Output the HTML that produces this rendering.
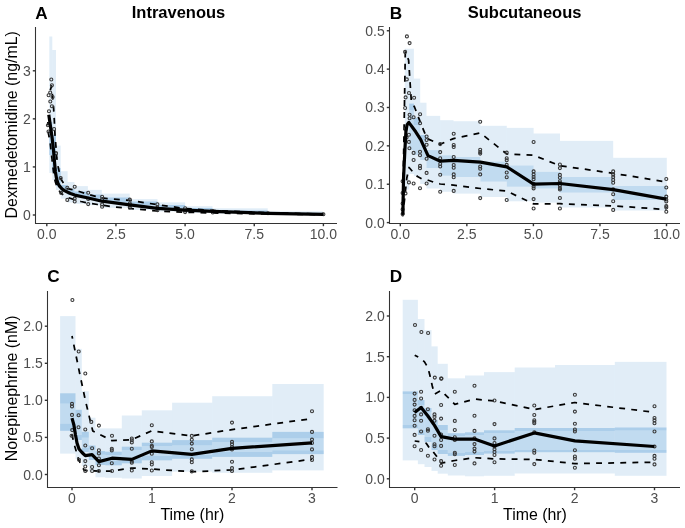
<!DOCTYPE html>
<html><head><meta charset="utf-8"><style>
html,body{margin:0;padding:0;background:#fff;}
svg{display:block;will-change:transform;}
text{font-family:"Liberation Sans",sans-serif;}
.tl{font-size:14px;fill:#4d4d4d;}
.tag{font-size:17.2px;font-weight:bold;fill:#000;}
.ttl{font-size:16.5px;font-weight:bold;fill:#000;}
.at{font-size:15.9px;fill:#000;}
.ax{fill:none;stroke:#333333;stroke-width:1.07;}
.tk{stroke:#333333;stroke-width:1.4;}
.ds{fill:none;stroke:#000;stroke-width:1.75;stroke-dasharray:5.9 6.2;stroke-linejoin:round;}
.md{fill:none;stroke:#000;stroke-width:3.2;stroke-linejoin:round;stroke-linecap:butt;}
.pt circle{fill:none;stroke:#383838;stroke-width:1.1;}
</style></head>
<body><svg width="685" height="528" viewBox="0 0 685 528">
<rect width="685" height="528" fill="#fff"/>
<rect x="49.30" y="36.50" width="3.00" height="136.50" fill="#3388cc" fill-opacity="0.15"/>
<rect x="49.30" y="122.00" width="3.00" height="33.00" fill="#3388cc" fill-opacity="0.3"/>
<rect x="52.30" y="50.00" width="3.70" height="130.00" fill="#3388cc" fill-opacity="0.15"/>
<rect x="52.30" y="135.00" width="3.70" height="37.00" fill="#3388cc" fill-opacity="0.3"/>
<rect x="56.00" y="145.60" width="4.70" height="44.40" fill="#3388cc" fill-opacity="0.15"/>
<rect x="56.00" y="168.00" width="4.70" height="18.00" fill="#3388cc" fill-opacity="0.3"/>
<rect x="60.70" y="171.20" width="6.90" height="27.50" fill="#3388cc" fill-opacity="0.15"/>
<rect x="60.70" y="185.00" width="6.90" height="7.00" fill="#3388cc" fill-opacity="0.3"/>
<rect x="67.60" y="182.00" width="6.80" height="20.50" fill="#3388cc" fill-opacity="0.15"/>
<rect x="67.60" y="189.00" width="6.80" height="6.00" fill="#3388cc" fill-opacity="0.3"/>
<rect x="74.40" y="186.10" width="13.50" height="17.70" fill="#3388cc" fill-opacity="0.15"/>
<rect x="74.40" y="191.50" width="13.50" height="5.50" fill="#3388cc" fill-opacity="0.3"/>
<rect x="87.90" y="189.90" width="13.90" height="15.30" fill="#3388cc" fill-opacity="0.15"/>
<rect x="87.90" y="194.50" width="13.90" height="5.50" fill="#3388cc" fill-opacity="0.3"/>
<rect x="101.80" y="193.60" width="27.90" height="14.20" fill="#3388cc" fill-opacity="0.15"/>
<rect x="101.80" y="197.50" width="27.90" height="5.00" fill="#3388cc" fill-opacity="0.3"/>
<rect x="129.70" y="199.10" width="27.80" height="10.90" fill="#3388cc" fill-opacity="0.15"/>
<rect x="129.70" y="201.50" width="27.80" height="4.00" fill="#3388cc" fill-opacity="0.3"/>
<rect x="157.50" y="202.40" width="27.60" height="9.10" fill="#3388cc" fill-opacity="0.15"/>
<rect x="157.50" y="205.00" width="27.60" height="3.50" fill="#3388cc" fill-opacity="0.3"/>
<rect x="185.10" y="206.20" width="27.40" height="6.60" fill="#3388cc" fill-opacity="0.15"/>
<rect x="185.10" y="208.00" width="27.40" height="2.50" fill="#3388cc" fill-opacity="0.3"/>
<rect x="212.50" y="208.30" width="55.20" height="5.30" fill="#3388cc" fill-opacity="0.15"/>
<rect x="212.50" y="210.50" width="55.20" height="2.00" fill="#3388cc" fill-opacity="0.3"/>
<rect x="267.70" y="211.40" width="55.10" height="3.10" fill="#3388cc" fill-opacity="0.15"/>
<rect x="267.70" y="212.80" width="55.10" height="1.20" fill="#3388cc" fill-opacity="0.3"/>
<rect x="404.80" y="48.70" width="4.40" height="101.30" fill="#3388cc" fill-opacity="0.15"/>
<rect x="404.80" y="150.00" width="4.40" height="39.50" fill="#3388cc" fill-opacity="0.15"/>
<rect x="409.20" y="48.70" width="4.70" height="61.30" fill="#3388cc" fill-opacity="0.15"/>
<rect x="409.20" y="150.00" width="4.70" height="24.00" fill="#3388cc" fill-opacity="0.15"/>
<rect x="409.20" y="103.60" width="4.70" height="46.40" fill="#3388cc" fill-opacity="0.3"/>
<rect x="413.90" y="78.60" width="6.30" height="46.40" fill="#3388cc" fill-opacity="0.15"/>
<rect x="413.90" y="155.00" width="6.30" height="21.00" fill="#3388cc" fill-opacity="0.15"/>
<rect x="413.90" y="118.00" width="6.30" height="37.00" fill="#3388cc" fill-opacity="0.3"/>
<rect x="420.20" y="102.70" width="6.30" height="37.30" fill="#3388cc" fill-opacity="0.15"/>
<rect x="420.20" y="160.00" width="6.30" height="24.00" fill="#3388cc" fill-opacity="0.15"/>
<rect x="420.20" y="135.00" width="6.30" height="25.00" fill="#3388cc" fill-opacity="0.3"/>
<rect x="426.50" y="115.90" width="13.70" height="34.20" fill="#3388cc" fill-opacity="0.15"/>
<rect x="426.50" y="168.00" width="13.70" height="20.50" fill="#3388cc" fill-opacity="0.15"/>
<rect x="426.50" y="150.10" width="13.70" height="17.90" fill="#3388cc" fill-opacity="0.3"/>
<rect x="440.20" y="120.20" width="13.30" height="35.10" fill="#3388cc" fill-opacity="0.15"/>
<rect x="440.20" y="175.70" width="13.30" height="16.10" fill="#3388cc" fill-opacity="0.15"/>
<rect x="440.20" y="155.30" width="13.30" height="20.40" fill="#3388cc" fill-opacity="0.3"/>
<rect x="453.50" y="121.20" width="26.90" height="35.80" fill="#3388cc" fill-opacity="0.15"/>
<rect x="453.50" y="177.00" width="26.90" height="16.60" fill="#3388cc" fill-opacity="0.15"/>
<rect x="453.50" y="157.00" width="26.90" height="20.00" fill="#3388cc" fill-opacity="0.3"/>
<rect x="480.40" y="125.80" width="26.40" height="35.80" fill="#3388cc" fill-opacity="0.15"/>
<rect x="480.40" y="181.60" width="26.40" height="15.40" fill="#3388cc" fill-opacity="0.15"/>
<rect x="480.40" y="161.60" width="26.40" height="20.00" fill="#3388cc" fill-opacity="0.3"/>
<rect x="506.80" y="127.90" width="26.80" height="37.60" fill="#3388cc" fill-opacity="0.15"/>
<rect x="506.80" y="186.70" width="26.80" height="14.60" fill="#3388cc" fill-opacity="0.15"/>
<rect x="506.80" y="165.50" width="26.80" height="21.20" fill="#3388cc" fill-opacity="0.3"/>
<rect x="533.60" y="133.50" width="26.40" height="38.40" fill="#3388cc" fill-opacity="0.15"/>
<rect x="533.60" y="188.50" width="26.40" height="14.10" fill="#3388cc" fill-opacity="0.15"/>
<rect x="533.60" y="171.90" width="26.40" height="16.60" fill="#3388cc" fill-opacity="0.3"/>
<rect x="560.00" y="140.90" width="53.20" height="36.10" fill="#3388cc" fill-opacity="0.15"/>
<rect x="560.00" y="192.60" width="53.20" height="14.90" fill="#3388cc" fill-opacity="0.15"/>
<rect x="560.00" y="177.00" width="53.20" height="15.60" fill="#3388cc" fill-opacity="0.3"/>
<rect x="613.20" y="157.80" width="53.60" height="28.20" fill="#3388cc" fill-opacity="0.15"/>
<rect x="613.20" y="199.90" width="53.60" height="10.60" fill="#3388cc" fill-opacity="0.15"/>
<rect x="613.20" y="186.00" width="53.60" height="13.90" fill="#3388cc" fill-opacity="0.3"/>
<rect x="60.10" y="316.10" width="15.40" height="87.30" fill="#3388cc" fill-opacity="0.15"/>
<rect x="60.10" y="423.90" width="15.40" height="29.70" fill="#3388cc" fill-opacity="0.15"/>
<rect x="60.10" y="393.30" width="15.40" height="37.50" fill="#3388cc" fill-opacity="0.3"/>
<rect x="75.50" y="348.90" width="6.30" height="67.80" fill="#3388cc" fill-opacity="0.15"/>
<rect x="75.50" y="435.00" width="6.30" height="24.10" fill="#3388cc" fill-opacity="0.15"/>
<rect x="75.50" y="409.80" width="6.30" height="30.20" fill="#3388cc" fill-opacity="0.3"/>
<rect x="81.80" y="391.20" width="7.00" height="46.30" fill="#3388cc" fill-opacity="0.15"/>
<rect x="81.80" y="448.00" width="7.00" height="17.90" fill="#3388cc" fill-opacity="0.15"/>
<rect x="81.80" y="431.80" width="7.00" height="20.20" fill="#3388cc" fill-opacity="0.3"/>
<rect x="88.80" y="417.70" width="6.70" height="31.70" fill="#3388cc" fill-opacity="0.15"/>
<rect x="88.80" y="456.00" width="6.70" height="15.60" fill="#3388cc" fill-opacity="0.15"/>
<rect x="88.80" y="445.50" width="6.70" height="14.50" fill="#3388cc" fill-opacity="0.3"/>
<rect x="95.50" y="428.40" width="9.70" height="26.10" fill="#3388cc" fill-opacity="0.15"/>
<rect x="95.50" y="461.00" width="9.70" height="16.30" fill="#3388cc" fill-opacity="0.15"/>
<rect x="95.50" y="451.10" width="9.70" height="13.90" fill="#3388cc" fill-opacity="0.3"/>
<rect x="105.20" y="428.40" width="16.60" height="26.60" fill="#3388cc" fill-opacity="0.15"/>
<rect x="105.20" y="461.00" width="16.60" height="16.80" fill="#3388cc" fill-opacity="0.15"/>
<rect x="105.20" y="451.70" width="16.60" height="13.60" fill="#3388cc" fill-opacity="0.3"/>
<rect x="121.80" y="415.50" width="20.00" height="34.50" fill="#3388cc" fill-opacity="0.15"/>
<rect x="121.80" y="458.00" width="20.00" height="20.50" fill="#3388cc" fill-opacity="0.15"/>
<rect x="121.80" y="446.70" width="20.00" height="16.60" fill="#3388cc" fill-opacity="0.3"/>
<rect x="141.80" y="410.30" width="30.30" height="35.70" fill="#3388cc" fill-opacity="0.15"/>
<rect x="141.80" y="456.00" width="30.30" height="20.00" fill="#3388cc" fill-opacity="0.15"/>
<rect x="141.80" y="442.70" width="30.30" height="17.60" fill="#3388cc" fill-opacity="0.3"/>
<rect x="172.10" y="402.70" width="40.10" height="42.50" fill="#3388cc" fill-opacity="0.15"/>
<rect x="172.10" y="455.00" width="40.10" height="16.60" fill="#3388cc" fill-opacity="0.15"/>
<rect x="172.10" y="440.10" width="40.10" height="18.70" fill="#3388cc" fill-opacity="0.3"/>
<rect x="212.20" y="396.20" width="60.10" height="45.80" fill="#3388cc" fill-opacity="0.15"/>
<rect x="212.20" y="452.00" width="60.10" height="20.80" fill="#3388cc" fill-opacity="0.15"/>
<rect x="212.20" y="437.70" width="60.10" height="19.20" fill="#3388cc" fill-opacity="0.3"/>
<rect x="272.30" y="384.00" width="51.40" height="54.20" fill="#3388cc" fill-opacity="0.15"/>
<rect x="272.30" y="450.50" width="51.40" height="19.90" fill="#3388cc" fill-opacity="0.15"/>
<rect x="272.30" y="431.90" width="51.40" height="22.20" fill="#3388cc" fill-opacity="0.3"/>
<rect x="402.70" y="299.80" width="15.20" height="94.20" fill="#3388cc" fill-opacity="0.15"/>
<rect x="402.70" y="425.00" width="15.20" height="35.40" fill="#3388cc" fill-opacity="0.15"/>
<rect x="402.70" y="391.40" width="15.20" height="36.90" fill="#3388cc" fill-opacity="0.3"/>
<rect x="417.90" y="319.00" width="6.60" height="86.00" fill="#3388cc" fill-opacity="0.15"/>
<rect x="417.90" y="430.00" width="6.60" height="34.20" fill="#3388cc" fill-opacity="0.15"/>
<rect x="417.90" y="400.00" width="6.60" height="35.00" fill="#3388cc" fill-opacity="0.3"/>
<rect x="424.50" y="330.10" width="7.00" height="81.90" fill="#3388cc" fill-opacity="0.15"/>
<rect x="424.50" y="437.00" width="7.00" height="30.00" fill="#3388cc" fill-opacity="0.15"/>
<rect x="424.50" y="408.00" width="7.00" height="34.00" fill="#3388cc" fill-opacity="0.3"/>
<rect x="431.50" y="346.40" width="6.20" height="78.60" fill="#3388cc" fill-opacity="0.15"/>
<rect x="431.50" y="445.00" width="6.20" height="25.90" fill="#3388cc" fill-opacity="0.15"/>
<rect x="431.50" y="420.00" width="6.20" height="30.00" fill="#3388cc" fill-opacity="0.3"/>
<rect x="437.70" y="363.80" width="10.10" height="66.20" fill="#3388cc" fill-opacity="0.15"/>
<rect x="437.70" y="450.00" width="10.10" height="23.70" fill="#3388cc" fill-opacity="0.15"/>
<rect x="437.70" y="425.00" width="10.10" height="29.00" fill="#3388cc" fill-opacity="0.3"/>
<rect x="447.80" y="378.30" width="17.20" height="57.70" fill="#3388cc" fill-opacity="0.15"/>
<rect x="447.80" y="453.00" width="17.20" height="22.50" fill="#3388cc" fill-opacity="0.15"/>
<rect x="447.80" y="433.20" width="17.20" height="22.70" fill="#3388cc" fill-opacity="0.3"/>
<rect x="465.00" y="375.50" width="19.00" height="59.50" fill="#3388cc" fill-opacity="0.15"/>
<rect x="465.00" y="452.00" width="19.00" height="24.30" fill="#3388cc" fill-opacity="0.15"/>
<rect x="465.00" y="432.30" width="19.00" height="22.70" fill="#3388cc" fill-opacity="0.3"/>
<rect x="484.00" y="372.10" width="30.70" height="60.90" fill="#3388cc" fill-opacity="0.15"/>
<rect x="484.00" y="451.00" width="30.70" height="24.80" fill="#3388cc" fill-opacity="0.15"/>
<rect x="484.00" y="430.30" width="30.70" height="23.30" fill="#3388cc" fill-opacity="0.3"/>
<rect x="514.70" y="367.50" width="40.30" height="63.50" fill="#3388cc" fill-opacity="0.15"/>
<rect x="514.70" y="450.00" width="40.30" height="23.50" fill="#3388cc" fill-opacity="0.15"/>
<rect x="514.70" y="428.00" width="40.30" height="24.20" fill="#3388cc" fill-opacity="0.3"/>
<rect x="555.00" y="365.00" width="59.80" height="66.00" fill="#3388cc" fill-opacity="0.15"/>
<rect x="555.00" y="450.00" width="59.80" height="23.50" fill="#3388cc" fill-opacity="0.15"/>
<rect x="555.00" y="428.00" width="59.80" height="24.20" fill="#3388cc" fill-opacity="0.3"/>
<rect x="614.80" y="361.90" width="51.70" height="68.40" fill="#3388cc" fill-opacity="0.15"/>
<rect x="614.80" y="450.00" width="51.70" height="25.80" fill="#3388cc" fill-opacity="0.15"/>
<rect x="614.80" y="427.50" width="51.70" height="25.30" fill="#3388cc" fill-opacity="0.3"/>
<polyline points="49.30,93.00 51.60,86.00 52.60,97.00 53.60,108.00 54.30,120.00 55.00,135.00 55.90,146.00 56.80,158.00 58.20,167.00 59.50,173.00 61.50,180.00 64.00,184.00 67.60,188.70 72.40,189.60 79.20,191.50 88.20,194.30 95.60,196.40 102.10,197.80 107.20,198.60 129.80,200.30 157.40,204.70 185.10,208.50 212.80,210.50 268.00,212.80 323.40,214.00" class="ds" stroke-dashoffset="9.08"/>
<polyline points="47.90,122.00 48.40,133.00 50.30,144.00 51.50,155.00 52.80,166.00 54.00,176.00 55.40,182.00 57.50,188.00 60.50,192.80 64.00,195.50 68.00,197.50 74.70,199.80 81.00,201.50 88.20,203.20 97.60,204.50 102.10,205.00 110.00,206.40 129.80,208.50 157.40,211.00 185.10,212.20 212.80,213.00 268.00,214.00 323.40,214.60" class="ds" stroke-dashoffset="2.56"/>
<polyline points="402.60,208.00 403.90,140.00 405.30,52.00 408.60,60.00 411.30,101.00 414.50,107.00 420.70,123.20 427.10,138.60 440.20,144.20 453.50,138.60 480.40,133.00 506.80,154.00 533.60,155.30 560.00,165.70 613.20,173.30 666.30,182.00" class="ds" stroke-dashoffset="6.79"/>
<polyline points="402.60,216.50 404.50,200.00 406.80,178.00 409.10,167.50 413.30,172.40 417.50,176.60 421.70,178.90 427.30,179.90 433.60,182.20 440.20,184.00 453.50,185.20 480.40,188.50 506.80,191.10 533.60,203.90 560.00,203.70 613.20,205.90 666.30,209.50" class="ds" stroke-dashoffset="12.01"/>
<polyline points="72.00,336.00 80.00,375.00 85.30,400.00 90.90,423.60 92.80,431.00 98.70,434.00 112.00,440.60 131.80,439.70 151.80,430.80 191.80,435.90 232.00,429.60 312.00,418.60" class="ds" stroke-dashoffset="3.26"/>
<polyline points="71.50,433.00 75.00,447.00 78.60,459.70 84.30,470.50 92.00,470.70 99.50,471.10 112.00,471.00 131.80,468.00 151.80,469.10 191.80,471.70 232.00,470.00 312.00,459.20" class="ds" stroke-dashoffset="11.11"/>
<polyline points="414.70,355.20 420.30,358.10 424.50,361.90 427.90,367.60 429.80,375.00 432.30,386.00 434.50,394.20 441.10,390.50 454.80,404.30 474.50,399.10 494.50,400.90 534.30,409.50 574.90,402.50 654.50,412.40" class="ds" stroke-dashoffset="1.93"/>
<polyline points="414.70,441.00 420.30,441.70 426.40,443.40 429.20,447.70 433.00,451.50 436.80,456.60 441.10,463.20 454.80,460.50 474.50,457.70 494.50,458.90 534.30,459.50 574.90,463.60 654.50,462.20" class="ds" stroke-dashoffset="1.17"/>
<g class="pt">
<circle cx="51.30" cy="79.50" r="1.5"/>
<circle cx="51.90" cy="85.30" r="1.5"/>
<circle cx="48.60" cy="95.20" r="1.5"/>
<circle cx="52.60" cy="97.00" r="1.5"/>
<circle cx="50.30" cy="101.50" r="1.5"/>
<circle cx="51.90" cy="106.30" r="1.5"/>
<circle cx="49.00" cy="111.20" r="1.5"/>
<circle cx="50.20" cy="92.50" r="1.5"/>
<circle cx="54.10" cy="129.00" r="1.5"/>
<circle cx="47.90" cy="125.20" r="1.5"/>
<circle cx="48.50" cy="131.50" r="1.5"/>
<circle cx="56.00" cy="153.20" r="1.5"/>
<circle cx="55.90" cy="153.20" r="1.5"/>
<circle cx="53.00" cy="160.00" r="1.5"/>
<circle cx="60.70" cy="178.10" r="1.5"/>
<circle cx="61.20" cy="192.90" r="1.5"/>
<circle cx="67.30" cy="187.70" r="1.5"/>
<circle cx="74.70" cy="186.70" r="1.5"/>
<circle cx="67.30" cy="199.90" r="1.5"/>
<circle cx="74.70" cy="201.50" r="1.5"/>
<circle cx="74.70" cy="198.60" r="1.5"/>
<circle cx="88.20" cy="192.80" r="1.5"/>
<circle cx="88.20" cy="198.90" r="1.5"/>
<circle cx="88.20" cy="204.10" r="1.5"/>
<circle cx="102.10" cy="196.70" r="1.5"/>
<circle cx="102.10" cy="199.30" r="1.5"/>
<circle cx="102.10" cy="204.40" r="1.5"/>
<circle cx="102.10" cy="206.70" r="1.5"/>
<circle cx="129.80" cy="199.60" r="1.5"/>
<circle cx="129.80" cy="203.50" r="1.5"/>
<circle cx="129.80" cy="205.50" r="1.5"/>
<circle cx="129.80" cy="207.60" r="1.5"/>
<circle cx="157.40" cy="204.20" r="1.5"/>
<circle cx="157.40" cy="207.60" r="1.5"/>
<circle cx="157.40" cy="210.30" r="1.5"/>
<circle cx="185.10" cy="208.20" r="1.5"/>
<circle cx="185.10" cy="210.50" r="1.5"/>
<circle cx="185.10" cy="212.10" r="1.5"/>
<circle cx="212.80" cy="211.00" r="1.5"/>
<circle cx="212.80" cy="212.50" r="1.5"/>
<circle cx="268.00" cy="213.30" r="1.5"/>
<circle cx="323.40" cy="214.30" r="1.5"/>
</g>
<g class="pt">
<circle cx="406.90" cy="36.40" r="1.5"/>
<circle cx="409.60" cy="43.10" r="1.5"/>
<circle cx="405.10" cy="51.90" r="1.5"/>
<circle cx="406.80" cy="79.40" r="1.5"/>
<circle cx="409.00" cy="93.00" r="1.5"/>
<circle cx="405.60" cy="97.40" r="1.5"/>
<circle cx="414.10" cy="97.80" r="1.5"/>
<circle cx="405.10" cy="108.00" r="1.5"/>
<circle cx="409.60" cy="114.80" r="1.5"/>
<circle cx="413.60" cy="117.30" r="1.5"/>
<circle cx="409.60" cy="118.20" r="1.5"/>
<circle cx="420.10" cy="114.30" r="1.5"/>
<circle cx="420.10" cy="123.30" r="1.5"/>
<circle cx="405.40" cy="129.40" r="1.5"/>
<circle cx="406.60" cy="137.60" r="1.5"/>
<circle cx="408.90" cy="134.80" r="1.5"/>
<circle cx="408.90" cy="141.90" r="1.5"/>
<circle cx="409.40" cy="148.20" r="1.5"/>
<circle cx="413.60" cy="152.90" r="1.5"/>
<circle cx="413.60" cy="160.00" r="1.5"/>
<circle cx="420.00" cy="151.80" r="1.5"/>
<circle cx="420.00" cy="155.30" r="1.5"/>
<circle cx="420.00" cy="165.90" r="1.5"/>
<circle cx="420.00" cy="168.20" r="1.5"/>
<circle cx="426.60" cy="136.50" r="1.5"/>
<circle cx="426.60" cy="140.00" r="1.5"/>
<circle cx="426.60" cy="144.70" r="1.5"/>
<circle cx="426.60" cy="158.80" r="1.5"/>
<circle cx="426.60" cy="172.90" r="1.5"/>
<circle cx="426.60" cy="183.50" r="1.5"/>
<circle cx="408.90" cy="182.40" r="1.5"/>
<circle cx="413.60" cy="183.50" r="1.5"/>
<circle cx="420.00" cy="188.20" r="1.5"/>
<circle cx="402.60" cy="181.20" r="1.5"/>
<circle cx="402.60" cy="193.00" r="1.5"/>
<circle cx="402.60" cy="203.50" r="1.5"/>
<circle cx="402.60" cy="209.40" r="1.5"/>
<circle cx="402.60" cy="214.10" r="1.5"/>
<circle cx="405.50" cy="193.40" r="1.5"/>
<circle cx="440.20" cy="144.10" r="1.5"/>
<circle cx="440.20" cy="152.10" r="1.5"/>
<circle cx="440.20" cy="158.30" r="1.5"/>
<circle cx="440.20" cy="164.00" r="1.5"/>
<circle cx="440.20" cy="166.50" r="1.5"/>
<circle cx="440.20" cy="174.80" r="1.5"/>
<circle cx="440.20" cy="191.80" r="1.5"/>
<circle cx="453.70" cy="133.70" r="1.5"/>
<circle cx="453.70" cy="145.00" r="1.5"/>
<circle cx="453.70" cy="147.00" r="1.5"/>
<circle cx="453.70" cy="157.00" r="1.5"/>
<circle cx="453.70" cy="165.00" r="1.5"/>
<circle cx="453.70" cy="167.80" r="1.5"/>
<circle cx="453.70" cy="174.40" r="1.5"/>
<circle cx="453.70" cy="177.30" r="1.5"/>
<circle cx="453.70" cy="190.90" r="1.5"/>
<circle cx="480.20" cy="121.70" r="1.5"/>
<circle cx="480.20" cy="149.80" r="1.5"/>
<circle cx="480.20" cy="152.10" r="1.5"/>
<circle cx="480.20" cy="153.60" r="1.5"/>
<circle cx="480.20" cy="166.50" r="1.5"/>
<circle cx="480.20" cy="168.70" r="1.5"/>
<circle cx="480.20" cy="174.40" r="1.5"/>
<circle cx="480.20" cy="198.10" r="1.5"/>
<circle cx="506.70" cy="152.60" r="1.5"/>
<circle cx="506.70" cy="158.30" r="1.5"/>
<circle cx="506.70" cy="160.20" r="1.5"/>
<circle cx="506.70" cy="164.90" r="1.5"/>
<circle cx="506.70" cy="172.50" r="1.5"/>
<circle cx="506.70" cy="177.30" r="1.5"/>
<circle cx="506.70" cy="200.00" r="1.5"/>
<circle cx="533.60" cy="142.00" r="1.5"/>
<circle cx="533.60" cy="171.40" r="1.5"/>
<circle cx="533.60" cy="174.40" r="1.5"/>
<circle cx="533.60" cy="177.00" r="1.5"/>
<circle cx="533.60" cy="179.20" r="1.5"/>
<circle cx="533.60" cy="183.80" r="1.5"/>
<circle cx="533.60" cy="186.40" r="1.5"/>
<circle cx="533.60" cy="188.40" r="1.5"/>
<circle cx="533.60" cy="199.10" r="1.5"/>
<circle cx="533.60" cy="208.50" r="1.5"/>
<circle cx="559.90" cy="164.50" r="1.5"/>
<circle cx="559.90" cy="168.10" r="1.5"/>
<circle cx="559.90" cy="174.90" r="1.5"/>
<circle cx="559.90" cy="177.80" r="1.5"/>
<circle cx="559.90" cy="181.20" r="1.5"/>
<circle cx="559.90" cy="183.00" r="1.5"/>
<circle cx="559.90" cy="185.50" r="1.5"/>
<circle cx="559.90" cy="188.10" r="1.5"/>
<circle cx="559.90" cy="189.40" r="1.5"/>
<circle cx="559.90" cy="198.00" r="1.5"/>
<circle cx="559.90" cy="208.50" r="1.5"/>
<circle cx="613.20" cy="171.40" r="1.5"/>
<circle cx="613.20" cy="174.60" r="1.5"/>
<circle cx="613.20" cy="177.10" r="1.5"/>
<circle cx="613.20" cy="179.90" r="1.5"/>
<circle cx="613.20" cy="182.80" r="1.5"/>
<circle cx="613.20" cy="189.40" r="1.5"/>
<circle cx="613.20" cy="194.20" r="1.5"/>
<circle cx="613.20" cy="201.20" r="1.5"/>
<circle cx="613.20" cy="209.90" r="1.5"/>
<circle cx="666.30" cy="179.00" r="1.5"/>
<circle cx="666.30" cy="187.50" r="1.5"/>
<circle cx="666.30" cy="196.60" r="1.5"/>
<circle cx="666.30" cy="199.50" r="1.5"/>
<circle cx="666.30" cy="201.40" r="1.5"/>
<circle cx="666.30" cy="206.10" r="1.5"/>
<circle cx="666.30" cy="207.40" r="1.5"/>
<circle cx="666.30" cy="211.80" r="1.5"/>
</g>
<g class="pt">
<circle cx="72.40" cy="300.00" r="1.5"/>
<circle cx="78.70" cy="351.50" r="1.5"/>
<circle cx="85.30" cy="373.50" r="1.5"/>
<circle cx="72.00" cy="403.90" r="1.5"/>
<circle cx="72.00" cy="406.40" r="1.5"/>
<circle cx="72.00" cy="414.90" r="1.5"/>
<circle cx="78.60" cy="415.30" r="1.5"/>
<circle cx="78.50" cy="427.30" r="1.5"/>
<circle cx="85.30" cy="429.50" r="1.5"/>
<circle cx="98.90" cy="425.60" r="1.5"/>
<circle cx="72.20" cy="430.10" r="1.5"/>
<circle cx="71.60" cy="435.80" r="1.5"/>
<circle cx="112.00" cy="435.80" r="1.5"/>
<circle cx="85.30" cy="445.50" r="1.5"/>
<circle cx="92.10" cy="448.30" r="1.5"/>
<circle cx="98.90" cy="450.20" r="1.5"/>
<circle cx="98.90" cy="453.40" r="1.5"/>
<circle cx="85.30" cy="461.10" r="1.5"/>
<circle cx="98.90" cy="458.50" r="1.5"/>
<circle cx="85.30" cy="466.50" r="1.5"/>
<circle cx="92.10" cy="467.00" r="1.5"/>
<circle cx="85.30" cy="471.00" r="1.5"/>
<circle cx="92.10" cy="471.00" r="1.5"/>
<circle cx="98.90" cy="465.30" r="1.5"/>
<circle cx="98.90" cy="471.00" r="1.5"/>
<circle cx="112.00" cy="471.00" r="1.5"/>
<circle cx="91.30" cy="421.90" r="1.5"/>
<circle cx="79.00" cy="459.70" r="1.5"/>
<circle cx="111.80" cy="448.70" r="1.5"/>
<circle cx="111.80" cy="450.40" r="1.5"/>
<circle cx="111.80" cy="463.20" r="1.5"/>
<circle cx="131.80" cy="438.50" r="1.5"/>
<circle cx="131.80" cy="440.20" r="1.5"/>
<circle cx="131.80" cy="442.40" r="1.5"/>
<circle cx="131.80" cy="448.70" r="1.5"/>
<circle cx="131.80" cy="461.50" r="1.5"/>
<circle cx="131.80" cy="462.80" r="1.5"/>
<circle cx="131.80" cy="470.50" r="1.5"/>
<circle cx="151.80" cy="425.30" r="1.5"/>
<circle cx="151.80" cy="441.40" r="1.5"/>
<circle cx="151.80" cy="445.80" r="1.5"/>
<circle cx="151.80" cy="447.00" r="1.5"/>
<circle cx="151.80" cy="453.80" r="1.5"/>
<circle cx="151.80" cy="462.30" r="1.5"/>
<circle cx="151.80" cy="464.50" r="1.5"/>
<circle cx="151.80" cy="470.50" r="1.5"/>
<circle cx="191.80" cy="435.90" r="1.5"/>
<circle cx="191.80" cy="439.70" r="1.5"/>
<circle cx="191.80" cy="443.60" r="1.5"/>
<circle cx="191.80" cy="449.20" r="1.5"/>
<circle cx="191.80" cy="459.40" r="1.5"/>
<circle cx="191.80" cy="462.30" r="1.5"/>
<circle cx="191.80" cy="471.40" r="1.5"/>
<circle cx="232.00" cy="422.60" r="1.5"/>
<circle cx="232.00" cy="441.90" r="1.5"/>
<circle cx="232.00" cy="444.30" r="1.5"/>
<circle cx="232.00" cy="447.10" r="1.5"/>
<circle cx="232.00" cy="449.40" r="1.5"/>
<circle cx="232.00" cy="461.80" r="1.5"/>
<circle cx="232.00" cy="468.10" r="1.5"/>
<circle cx="232.00" cy="470.90" r="1.5"/>
<circle cx="312.00" cy="411.30" r="1.5"/>
<circle cx="312.00" cy="431.90" r="1.5"/>
<circle cx="312.00" cy="439.60" r="1.5"/>
<circle cx="312.00" cy="442.90" r="1.5"/>
<circle cx="312.00" cy="449.40" r="1.5"/>
<circle cx="312.00" cy="456.90" r="1.5"/>
<circle cx="312.00" cy="459.90" r="1.5"/>
</g>
<g class="pt">
<circle cx="415.00" cy="325.00" r="1.5"/>
<circle cx="421.40" cy="332.00" r="1.5"/>
<circle cx="428.10" cy="333.00" r="1.5"/>
<circle cx="434.80" cy="377.60" r="1.5"/>
<circle cx="441.50" cy="378.60" r="1.5"/>
<circle cx="414.60" cy="393.60" r="1.5"/>
<circle cx="414.60" cy="399.90" r="1.5"/>
<circle cx="414.60" cy="404.60" r="1.5"/>
<circle cx="414.60" cy="410.30" r="1.5"/>
<circle cx="414.60" cy="415.90" r="1.5"/>
<circle cx="414.60" cy="420.30" r="1.5"/>
<circle cx="414.60" cy="425.80" r="1.5"/>
<circle cx="414.60" cy="434.90" r="1.5"/>
<circle cx="414.60" cy="446.20" r="1.5"/>
<circle cx="421.10" cy="391.70" r="1.5"/>
<circle cx="421.10" cy="398.50" r="1.5"/>
<circle cx="421.10" cy="408.00" r="1.5"/>
<circle cx="421.10" cy="414.40" r="1.5"/>
<circle cx="421.10" cy="420.70" r="1.5"/>
<circle cx="421.10" cy="431.50" r="1.5"/>
<circle cx="421.10" cy="450.00" r="1.5"/>
<circle cx="427.90" cy="409.30" r="1.5"/>
<circle cx="427.90" cy="429.20" r="1.5"/>
<circle cx="427.90" cy="430.70" r="1.5"/>
<circle cx="427.90" cy="455.70" r="1.5"/>
<circle cx="434.50" cy="414.40" r="1.5"/>
<circle cx="434.50" cy="416.90" r="1.5"/>
<circle cx="434.50" cy="420.70" r="1.5"/>
<circle cx="434.50" cy="435.80" r="1.5"/>
<circle cx="434.50" cy="444.30" r="1.5"/>
<circle cx="434.50" cy="446.20" r="1.5"/>
<circle cx="434.50" cy="459.50" r="1.5"/>
<circle cx="441.10" cy="378.60" r="1.5"/>
<circle cx="441.10" cy="405.00" r="1.5"/>
<circle cx="441.10" cy="418.60" r="1.5"/>
<circle cx="441.10" cy="434.50" r="1.5"/>
<circle cx="441.10" cy="440.00" r="1.5"/>
<circle cx="441.10" cy="445.90" r="1.5"/>
<circle cx="441.10" cy="461.10" r="1.5"/>
<circle cx="441.10" cy="465.70" r="1.5"/>
<circle cx="454.80" cy="391.80" r="1.5"/>
<circle cx="454.80" cy="420.90" r="1.5"/>
<circle cx="454.80" cy="430.00" r="1.5"/>
<circle cx="454.80" cy="437.30" r="1.5"/>
<circle cx="454.80" cy="440.00" r="1.5"/>
<circle cx="454.80" cy="452.70" r="1.5"/>
<circle cx="454.80" cy="454.30" r="1.5"/>
<circle cx="454.80" cy="465.00" r="1.5"/>
<circle cx="474.50" cy="385.70" r="1.5"/>
<circle cx="474.50" cy="415.70" r="1.5"/>
<circle cx="474.50" cy="430.90" r="1.5"/>
<circle cx="474.50" cy="438.40" r="1.5"/>
<circle cx="474.50" cy="444.10" r="1.5"/>
<circle cx="474.50" cy="448.60" r="1.5"/>
<circle cx="474.50" cy="451.60" r="1.5"/>
<circle cx="474.50" cy="463.40" r="1.5"/>
<circle cx="494.50" cy="400.50" r="1.5"/>
<circle cx="494.50" cy="424.10" r="1.5"/>
<circle cx="494.50" cy="438.40" r="1.5"/>
<circle cx="494.50" cy="443.00" r="1.5"/>
<circle cx="494.50" cy="446.40" r="1.5"/>
<circle cx="494.50" cy="449.30" r="1.5"/>
<circle cx="494.50" cy="452.00" r="1.5"/>
<circle cx="494.50" cy="455.00" r="1.5"/>
<circle cx="494.50" cy="462.30" r="1.5"/>
<circle cx="534.30" cy="405.50" r="1.5"/>
<circle cx="534.30" cy="415.00" r="1.5"/>
<circle cx="534.30" cy="420.20" r="1.5"/>
<circle cx="534.30" cy="421.80" r="1.5"/>
<circle cx="534.30" cy="423.20" r="1.5"/>
<circle cx="534.30" cy="432.30" r="1.5"/>
<circle cx="534.30" cy="450.50" r="1.5"/>
<circle cx="534.30" cy="452.70" r="1.5"/>
<circle cx="534.30" cy="464.10" r="1.5"/>
<circle cx="574.90" cy="394.80" r="1.5"/>
<circle cx="574.90" cy="411.60" r="1.5"/>
<circle cx="574.90" cy="423.80" r="1.5"/>
<circle cx="574.90" cy="429.50" r="1.5"/>
<circle cx="574.90" cy="431.50" r="1.5"/>
<circle cx="574.90" cy="450.20" r="1.5"/>
<circle cx="574.90" cy="456.50" r="1.5"/>
<circle cx="574.90" cy="458.80" r="1.5"/>
<circle cx="574.90" cy="467.80" r="1.5"/>
<circle cx="654.50" cy="406.20" r="1.5"/>
<circle cx="654.50" cy="418.00" r="1.5"/>
<circle cx="654.50" cy="420.40" r="1.5"/>
<circle cx="654.50" cy="423.20" r="1.5"/>
<circle cx="654.50" cy="431.50" r="1.5"/>
<circle cx="654.50" cy="446.50" r="1.5"/>
<circle cx="654.50" cy="455.90" r="1.5"/>
<circle cx="654.50" cy="458.80" r="1.5"/>
<circle cx="654.50" cy="464.40" r="1.5"/>
</g>
<polyline points="48.80,114.70 50.50,126.50 52.20,138.50 53.40,149.00 54.40,160.60 55.40,172.00 56.60,179.00 57.80,183.00 59.50,186.20 61.80,188.70 64.50,190.60 67.30,192.00 70.50,193.50 74.70,195.10 88.20,198.00 102.10,201.20 129.80,204.80 157.40,208.40 185.10,210.20 212.80,211.40 268.00,213.30 323.40,214.30" class="md"/>
<polyline points="402.90,214.70 403.50,179.20 404.90,149.60 405.90,131.80 407.00,125.00 408.80,122.40 415.70,131.80 420.70,139.70 428.00,155.60 440.40,161.20 453.50,160.40 480.40,162.20 506.80,166.80 533.60,184.20 560.00,183.50 613.20,189.60 666.30,199.10" class="md"/>
<polyline points="72.00,418.10 73.90,425.00 75.50,435.00 77.00,443.00 79.00,448.90 82.00,452.50 85.30,455.70 92.10,454.60 98.90,461.60 112.00,458.20 131.80,459.40 151.80,450.90 191.80,454.30 232.00,448.30 312.00,442.90" class="md"/>
<polyline points="414.60,412.40 421.10,407.40 427.90,416.00 434.50,425.40 441.10,436.60 454.80,439.10 474.50,439.10 494.50,445.90 534.30,432.90 574.90,440.90 654.50,446.50" class="md"/>
<path d="M35.5,27 V223.5 H337" class="ax"/>
<line x1="46.8" y1="223.5" x2="46.8" y2="226.2" class="tk"/>
<text x="46.80" y="238.60" class="tl" text-anchor="middle" >0.0</text>
<line x1="115.95" y1="223.5" x2="115.95" y2="226.2" class="tk"/>
<text x="115.95" y="238.60" class="tl" text-anchor="middle" >2.5</text>
<line x1="185.1" y1="223.5" x2="185.1" y2="226.2" class="tk"/>
<text x="185.10" y="238.60" class="tl" text-anchor="middle" >5.0</text>
<line x1="254.25" y1="223.5" x2="254.25" y2="226.2" class="tk"/>
<text x="254.25" y="238.60" class="tl" text-anchor="middle" >7.5</text>
<line x1="323.4" y1="223.5" x2="323.4" y2="226.2" class="tk"/>
<text x="323.40" y="238.60" class="tl" text-anchor="middle" >10.0</text>
<line x1="32.8" y1="215" x2="35.5" y2="215" class="tk"/>
<text x="30.70" y="220.00" class="tl" text-anchor="end" >0</text>
<line x1="32.8" y1="166.93" x2="35.5" y2="166.93" class="tk"/>
<text x="30.70" y="171.93" class="tl" text-anchor="end" >1</text>
<line x1="32.8" y1="118.86" x2="35.5" y2="118.86" class="tk"/>
<text x="30.70" y="123.86" class="tl" text-anchor="end" >2</text>
<line x1="32.8" y1="70.8" x2="35.5" y2="70.8" class="tk"/>
<text x="30.70" y="75.80" class="tl" text-anchor="end" >3</text>
<path d="M389.5,27 V223.5 H680" class="ax"/>
<line x1="400.3" y1="223.5" x2="400.3" y2="226.2" class="tk"/>
<text x="400.30" y="238.60" class="tl" text-anchor="middle" >0.0</text>
<line x1="466.85" y1="223.5" x2="466.85" y2="226.2" class="tk"/>
<text x="466.85" y="238.60" class="tl" text-anchor="middle" >2.5</text>
<line x1="533.4" y1="223.5" x2="533.4" y2="226.2" class="tk"/>
<text x="533.40" y="238.60" class="tl" text-anchor="middle" >5.0</text>
<line x1="599.95" y1="223.5" x2="599.95" y2="226.2" class="tk"/>
<text x="599.95" y="238.60" class="tl" text-anchor="middle" >7.5</text>
<line x1="666.5" y1="223.5" x2="666.5" y2="226.2" class="tk"/>
<text x="666.50" y="238.60" class="tl" text-anchor="middle" >10.0</text>
<line x1="386.8" y1="222.6" x2="389.5" y2="222.6" class="tk"/>
<text x="384.70" y="227.60" class="tl" text-anchor="end" >0.0</text>
<line x1="386.8" y1="184.23" x2="389.5" y2="184.23" class="tk"/>
<text x="384.70" y="189.23" class="tl" text-anchor="end" >0.1</text>
<line x1="386.8" y1="145.86" x2="389.5" y2="145.86" class="tk"/>
<text x="384.70" y="150.86" class="tl" text-anchor="end" >0.2</text>
<line x1="386.8" y1="107.49" x2="389.5" y2="107.49" class="tk"/>
<text x="384.70" y="112.49" class="tl" text-anchor="end" >0.3</text>
<line x1="386.8" y1="69.12" x2="389.5" y2="69.12" class="tk"/>
<text x="384.70" y="74.12" class="tl" text-anchor="end" >0.4</text>
<line x1="386.8" y1="30.75" x2="389.5" y2="30.75" class="tk"/>
<text x="384.70" y="35.75" class="tl" text-anchor="end" >0.5</text>
<path d="M47.5,291 V487.5 H337.5" class="ax"/>
<line x1="72" y1="487.5" x2="72" y2="490.2" class="tk"/>
<text x="72.00" y="502.60" class="tl" text-anchor="middle" >0</text>
<line x1="152" y1="487.5" x2="152" y2="490.2" class="tk"/>
<text x="152.00" y="502.60" class="tl" text-anchor="middle" >1</text>
<line x1="232" y1="487.5" x2="232" y2="490.2" class="tk"/>
<text x="232.00" y="502.60" class="tl" text-anchor="middle" >2</text>
<line x1="312" y1="487.5" x2="312" y2="490.2" class="tk"/>
<text x="312.00" y="502.60" class="tl" text-anchor="middle" >3</text>
<line x1="44.8" y1="474.5" x2="47.5" y2="474.5" class="tk"/>
<text x="42.70" y="479.50" class="tl" text-anchor="end" >0.0</text>
<line x1="44.8" y1="437.4" x2="47.5" y2="437.4" class="tk"/>
<text x="42.70" y="442.40" class="tl" text-anchor="end" >0.5</text>
<line x1="44.8" y1="400.3" x2="47.5" y2="400.3" class="tk"/>
<text x="42.70" y="405.30" class="tl" text-anchor="end" >1.0</text>
<line x1="44.8" y1="363.3" x2="47.5" y2="363.3" class="tk"/>
<text x="42.70" y="368.30" class="tl" text-anchor="end" >1.5</text>
<line x1="44.8" y1="326.2" x2="47.5" y2="326.2" class="tk"/>
<text x="42.70" y="331.20" class="tl" text-anchor="end" >2.0</text>
<path d="M389.5,291 V487.5 H680" class="ax"/>
<line x1="414.7" y1="487.5" x2="414.7" y2="490.2" class="tk"/>
<text x="414.70" y="502.60" class="tl" text-anchor="middle" >0</text>
<line x1="494.6" y1="487.5" x2="494.6" y2="490.2" class="tk"/>
<text x="494.60" y="502.60" class="tl" text-anchor="middle" >1</text>
<line x1="574.6" y1="487.5" x2="574.6" y2="490.2" class="tk"/>
<text x="574.60" y="502.60" class="tl" text-anchor="middle" >2</text>
<line x1="654.5" y1="487.5" x2="654.5" y2="490.2" class="tk"/>
<text x="654.50" y="502.60" class="tl" text-anchor="middle" >3</text>
<line x1="386.8" y1="478.8" x2="389.5" y2="478.8" class="tk"/>
<text x="384.70" y="483.80" class="tl" text-anchor="end" >0.0</text>
<line x1="386.8" y1="438.1" x2="389.5" y2="438.1" class="tk"/>
<text x="384.70" y="443.10" class="tl" text-anchor="end" >0.5</text>
<line x1="386.8" y1="397.4" x2="389.5" y2="397.4" class="tk"/>
<text x="384.70" y="402.40" class="tl" text-anchor="end" >1.0</text>
<line x1="386.8" y1="356.7" x2="389.5" y2="356.7" class="tk"/>
<text x="384.70" y="361.70" class="tl" text-anchor="end" >1.5</text>
<line x1="386.8" y1="316" x2="389.5" y2="316" class="tk"/>
<text x="384.70" y="321.00" class="tl" text-anchor="end" >2.0</text>
<text x="35.2" y="18.6" class="tag">A</text>
<text x="389.8" y="18.6" class="tag">B</text>
<text x="47.2" y="282.4" class="tag">C</text>
<text x="389.8" y="282.4" class="tag">D</text>
<text x="178.5" y="18.4" class="ttl" text-anchor="middle">Intravenous</text>
<text x="524.6" y="18.4" class="ttl" text-anchor="middle">Subcutaneous</text>
<text transform="translate(17,124.8) rotate(-90)" class="at" text-anchor="middle">Dexmedetomidine (ng/mL)</text>
<text transform="translate(17,388.4) rotate(-90)" class="at" text-anchor="middle">Norepinephrine (nM)</text>
<text x="192.4" y="519.6" class="at" text-anchor="middle">Time (hr)</text>
<text x="535" y="519.6" class="at" text-anchor="middle">Time (hr)</text>
</svg></body></html>
